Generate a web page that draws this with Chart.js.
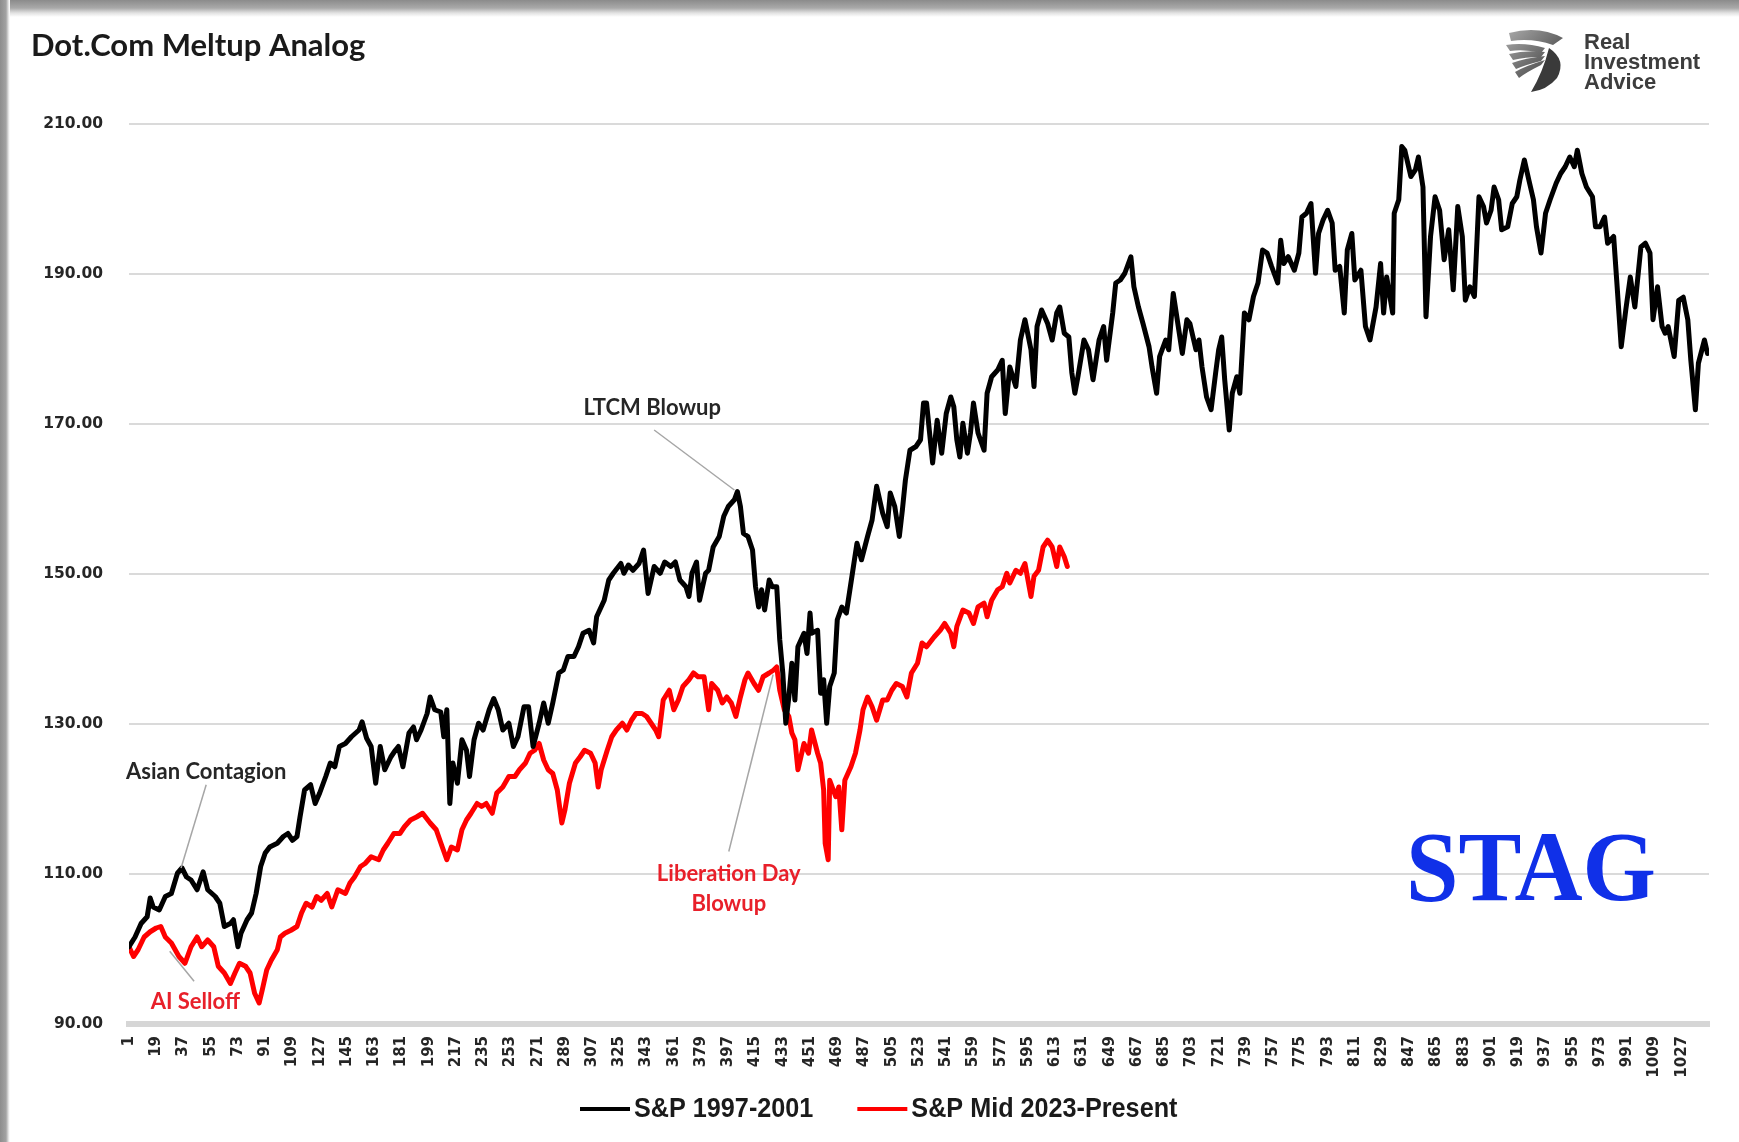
<!DOCTYPE html>
<html>
<head>
<meta charset="utf-8">
<title>Dot.Com Meltup Analog</title>
<script src="https://cdn.jsdelivr.net/npm/chart.js@4.4.1/dist/chart.umd.min.js"></script>
<style>
html, body { margin: 0; padding: 0; background: #fff; }
#wrap { position: relative; width: 1739px; height: 1142px; overflow: hidden; }
#topEdge { position: absolute; left: 0; top: 0; width: 1739px; height: 17px;
  background: linear-gradient(to bottom, #8b8b8b 0px, #a9a9a9 8px, #e2e2e2 13px, #ffffff 17px); }
#leftEdge { position: absolute; left: 0; top: 0; width: 10px; height: 1142px;
  background: linear-gradient(to right, #8d8d8d 0px, #a2a2a2 6px, #f0f0f0 9px, #ffffff 10px); }
canvas { position: absolute; left: 0; top: 0; }
</style>
</head>
<body>
<div id="wrap">
  <div id="topEdge"></div>
  <div id="leftEdge"></div>
  <canvas id="grafico" width="1739" height="1142"></canvas>
</div>
<script>
// day number (1 = start of each run) and index level
var spxOldDays = [1,5,9,13,15,17,21,25,29,33,36,39,42,46,50,53,58,61,64,68,70,73,75,79,82,85,88,91,94,99,
  103,106,109,112,114,117,121,124,127,131,134,137,140,144,148,153,155,158,161,164,167,170,174,177,179,182,186,189,191,194,
  198,200,203,207,209,211,213,215,218,221,224,226,229,232,235,239,242,245,248,252,255,258,262,265,268,272,275,278,281,285,
  288,291,295,298,301,305,308,310,315,318,321,326,328,331,334,338,341,344,348,352,355,359,362,365,369,371,373,376,378,382,
  384,387,391,394,397,401,403,405,407,410,413,415,417,419,421,424,426,429,431,433,435,437,439,441,443,447,449,451,452,456,
  458,460,462,464,467,469,472,475,479,482,485,489,492,495,499,502,504,507,510,512,514,517,521,524,526,528,532,535,538,541,
  544,546,548,550,552,555,557,559,562,566,568,571,575,578,580,583,587,590,593,597,599,601,604,608,611,614,616,619,622,624,
  626,628,632,635,638,642,645,647,651,653,656,659,663,665,668,671,675,677,680,682,686,688,691,695,697,700,702,706,708,710,
  713,716,719,721,723,725,728,730,733,735,738,741,744,747,750,753,756,760,762,764,767,771,774,776,779,782,785,787,790,793,
  796,798,801,804,806,809,811,815,818,821,825,828,830,832,836,837,840,842,844,848,851,853,856,858,861,864,867,870,873,876,
  879,882,884,887,890,893,896,898,901,903,906,908,912,915,918,920,923,926,929,931,934,937,940,944,947,950,953,956,958,961,
  964,968,970,973,976,978,982,984,987,990,993,996,1000,1003,1006,1008,1011,1014,1016,1018,1022,1025,1028,1031,1033,1036,1038,1042,1044];
var spxOldValues = [100.3,101.6,103.4,104.3,106.8,105.6,105.2,107,107.4,110.1,110.8,109.6,109.2,107.9,110.3,107.9,107,106.1,103,103.4,103.9,100.3,102.1,103.9,104.8,107.4,111,112.8,113.6,114.1,
  115,115.4,114.5,115,117.6,121.2,121.9,119.4,120.8,123,124.8,124.3,127,127.4,128.3,129.2,130.3,128.1,127,122.1,127,123.9,125.6,126.5,127,124.3,128.8,129.6,127.9,129.2,
  131.4,133.6,131.9,131.6,128.3,131.9,119.4,124.8,122.1,127.9,126.5,123,127.9,130.1,129.2,131.9,133.4,131.9,129.2,130.1,127,128.3,132.3,132.3,127,130.1,132.8,130.1,132.8,136.8,
  137.2,139,139,140.3,142.1,142.5,140.8,144.3,146.5,149.2,150.1,151.4,150.1,151.2,150.5,151.4,153.2,147.4,151,150.1,151.6,151,151.6,149.2,148.3,147,150.1,151.6,146.5,150.1,
  150.5,153.6,155,157.7,159,159.9,161,159,155.4,155,153.2,148.3,145.6,147.9,145.2,149.2,148.3,148.3,141.2,136.8,130.1,133.6,138.1,133.2,140.3,142.1,139.4,144.8,142.1,142.5,
  134.1,135.9,130.1,135,136.8,143.9,145.6,144.8,150.1,154.1,151.9,155,157.2,161.7,158.1,156.3,160.8,159,155,158.5,162.5,166.5,167,167.9,172.8,172.8,164.8,170.5,166.1,171.4,
  173.6,172.3,167.9,165.6,170.1,166.1,168.8,172.8,168.8,166.5,174.1,176.3,177.2,178.5,171.4,177.6,175,181.2,183.9,179.9,175,183,185.2,183.4,181.2,184.8,185.6,182.1,181.6,176.8,
  174.1,176.3,181.2,179.9,175.9,181.2,183,178.5,184.8,188.8,189.2,190.1,192.3,188.3,185.6,183.4,180.3,177.6,174.1,179,181.2,179.9,187.4,182.1,179.4,183.9,183.4,179.9,181.2,177.6,
  173.6,171.9,176.8,179.9,181.6,175.9,169.2,174.1,176.3,174.1,184.8,183.9,187,188.8,193.2,192.8,191,188.8,194.5,191.4,192.3,190.5,192.8,197.6,198.1,199.4,190.1,195.4,197.2,198.5,
  196.8,190.5,191,184.8,193.2,195.4,189.2,190.5,183,181.2,185.6,191.4,184.8,189.6,184.8,198.1,199.9,207,206.5,203,203.9,205.6,201.6,184.3,195,200.3,198.5,191.9,195.9,187.9,
  199,195,186.5,188.3,187,200.3,199,196.8,198.5,201.6,199.9,195.9,196.3,199.4,200.3,202.5,205.2,202.5,199.9,196.3,192.8,198.1,199.9,202.1,203.4,204.3,205.6,204.3,206.5,203.4,
  201.6,200.3,196.3,196.3,197.6,194.1,195,189.2,180.3,185.2,189.6,185.6,193.6,194.1,192.8,183.9,188.3,183,182.1,183,179,186.5,186.9,183.9,178.5,171.9,178.1,181.2,179.4];

var spxNewDays = [1,4,7,11,15,19,22,25,29,34,38,42,46,49,53,57,60,64,68,71,74,78,81,84,87,89,92,95,99,101,
  104,108,112,115,118,122,125,128,132,135,139,144,147,150,154,157,161,166,169,172,176,180,183,187,191,195,200,204,208,211,
  214,218,221,224,227,231,234,237,241,244,248,252,256,259,263,266,269,272,275,278,281,284,287,289,292,296,299,302,306,309,
  311,313,317,320,323,327,330,333,336,340,343,346,349,351,354,358,361,364,367,371,374,377,381,384,386,390,393,396,399,402,
  405,408,410,414,417,420,424,427,429,431,434,437,439,441,443,447,450,452,456,458,460,461,463,464,468,470,472,474,478,481,
  484,486,489,492,495,499,502,505,508,512,515,518,522,525,528,533,537,540,544,546,548,552,556,559,562,566,568,571,575,578,
  581,583,587,590,593,597,599,602,605,608,611,614,616,619,621];
var spxNewValues = [100.3,99,99.9,101.6,102.3,102.8,103,101.6,100.8,99,98.1,100.3,101.6,100.3,101.2,100.3,97.7,96.8,95.4,96.8,98.1,97.7,96.8,94.1,92.8,94.5,97.2,98.5,99.9,101.6,
  102.1,102.5,103,104.8,106.1,105.6,107,106.5,107.4,105.6,107.9,107.4,108.8,109.6,111,111.4,112.3,111.9,113.2,114.1,115.4,115.4,116.3,117.2,117.6,118.1,116.8,115.9,113.6,111.9,
  113.6,113.2,115.9,117.2,118.1,119.4,119,119.4,118.1,120.8,121.6,123,123,123.9,124.8,126.1,126.5,127.4,125.2,123.9,123.4,121.2,116.8,118.5,122.1,124.8,125.6,126.5,126.1,124.8,
  121.6,123.9,126.5,128.3,129.2,130.1,129.2,130.5,131.4,131.4,131,130.1,129.2,128.3,133.2,134.5,131.9,133.2,135,135.9,136.8,136.3,136.3,131.9,135.4,134.5,132.8,133.6,132.8,131,
  133.6,135.9,136.8,135.4,134.5,136.3,136.8,137.2,137.6,134.5,131.9,131,128.8,127.9,123.9,127.4,126.1,129.2,126.1,124.8,121.2,114.1,111.9,122.5,120.3,121.6,115.9,122.5,124.3,126.1,
  129.2,131.9,133.6,132.3,130.5,133.2,133.2,134.5,135.4,135,133.6,136.8,138.1,140.8,140.3,141.6,142.5,143.4,142.1,140.3,143,145.2,144.8,143.4,145.6,146.1,144.3,146.5,147.9,148.3,
  150.1,148.8,150.5,150.1,151.4,147,149.7,150.5,153.6,154.5,153.6,151,153.6,152.3,151];

var seriesNames = ['S&P 1997-2001', 'S&P Mid 2023-Present'];
var seriesColors = ['#000000', '#ff0000'];
var dayTicks = [1,19,37,55,73,91,109,127,145,163,181,199,217,235,253,271,289,307,325,343,361,379,397,415,433,451,469,487,505,523,
  541,559,577,595,613,631,649,667,685,703,721,739,757,775,793,811,829,847,865,883,901,919,937,955,973,991,1009,1027];

// call-outs: text anchored at (day, level), leader line from -> to in (day, level)
var notas = [
  { texto: ['LTCM Blowup'], dia: 346.7, nivel: 172.1, cor: '#262626', de: [348, 169.2], ate: [401, 161.2] },
  { texto: ['Asian Contagion'], dia: 52, nivel: 123.6, cor: '#262626', de: [52, 121.9], ate: [35.4, 110.8] },
  { texto: ['Liberation Day', 'Blowup'], dia: 397.3, nivel: 110, cor: '#e8202a', de: [397.3, 113], ate: [426.6, 136.6] },
  { texto: ['AI Selloff'], dia: 44.8, nivel: 93, cor: '#e8202a', de: [27.9, 99.7], ate: [44, 95.7] }
];

function pontos(dias, valores) {
  return dias.map(function (d, k) { return { x: d, y: valores[k] }; });
}

function desenhaAguia(ctx, x, y) {
  ctx.save();
  ctx.translate(x, y);
  var g = ctx.createLinearGradient(0, 0, 60, 64);
  g.addColorStop(0, '#b0b0b0');
  g.addColorStop(0.5, '#6a6a6a');
  g.addColorStop(1, '#2e2e2e');
  ctx.fillStyle = g;
  ctx.beginPath();
  ctx.moveTo(6, 5);
  ctx.quadraticCurveTo(36, -3, 60, 10);
  ctx.lineTo(50, 17);
  ctx.quadraticCurveTo(30, 10, 8, 13);
  ctx.closePath();
  ctx.fill();
  for (var k = 0; k < 4; k++) {
    ctx.beginPath();
    ctx.moveTo(3 + k * 3, 17 + k * 9);
    ctx.quadraticCurveTo(22, 14 + k * 8, 42, 20 + k * 4);
    ctx.lineTo(38, 25 + k * 4);
    ctx.quadraticCurveTo(22, 21 + k * 8, 7 + k * 3, 23 + k * 9);
    ctx.closePath();
    ctx.fill();
  }
  ctx.fillStyle = '#3a3a3a';
  ctx.beginPath();
  ctx.moveTo(46, 20);
  ctx.quadraticCurveTo(64, 32, 54, 50);
  ctx.quadraticCurveTo(44, 62, 28, 64);
  ctx.quadraticCurveTo(40, 44, 46, 20);
  ctx.closePath();
  ctx.fill();
  ctx.restore();
}

var extras = {
  id: 'extras',
  afterDatasetsDraw: function (chart) {
    var ctx = chart.ctx;
    var sx = chart.scales.x, sy = chart.scales.y;
    ctx.save();
    // leader lines
    ctx.strokeStyle = '#a6a6a6';
    ctx.lineWidth = 1.5;
    notas.forEach(function (n) {
      ctx.beginPath();
      ctx.moveTo(sx.getPixelForValue(n.de[0]), sy.getPixelForValue(n.de[1]));
      ctx.lineTo(sx.getPixelForValue(n.ate[0]), sy.getPixelForValue(n.ate[1]));
      ctx.stroke();
    });
    // call-out text
    ctx.font = 'bold 22px Lato';
    ctx.textAlign = 'center';
    ctx.textBaseline = 'middle';
    notas.forEach(function (n) {
      ctx.fillStyle = n.cor;
      n.texto.forEach(function (t, k) {
        ctx.fillText(t, sx.getPixelForValue(n.dia), sy.getPixelForValue(n.nivel) + k * 30);
      });
    });

    // title
    ctx.textAlign = 'left';
    ctx.textBaseline = 'alphabetic';
    ctx.fillStyle = '#1a1a1a';
    ctx.font = 'bold 31px Lato';
    ctx.fillText('Dot.Com Meltup Analog', 31, 56);

    // logo
    desenhaAguia(ctx, 1503, 28);
    ctx.fillStyle = '#3d3d3d';
    ctx.font = 'bold 22px "Liberation Sans"';
    ctx.fillText('Real', 1584, 49);
    ctx.fillText('Investment', 1584, 69);
    ctx.fillText('Advice', 1584, 89);

    // STAG stamp
    ctx.fillStyle = '#1030e8';
    ctx.font = 'bold 100px "Liberation Serif"';
    var w = ctx.measureText('STAG').width;
    ctx.save();
    ctx.translate(1406, 900);
    ctx.scale(250 / w, 1);
    ctx.fillText('STAG', 0, 0);
    ctx.restore();

    // legend (text slightly condensed, like the original)
    ctx.font = 'bold 28px "Liberation Sans"';
    ctx.textBaseline = 'middle';
    var x = 580, yl = 1109, aperto = 0.9;
    chart.data.datasets.forEach(function (ds) {
      ctx.strokeStyle = ds.borderColor;
      ctx.lineWidth = 4;
      ctx.beginPath();
      ctx.moveTo(x, yl);
      ctx.lineTo(x + 50, yl);
      ctx.stroke();
      ctx.fillStyle = '#1a1a1a';
      ctx.save();
      ctx.translate(x + 54, yl);
      ctx.scale(aperto, 1);
      ctx.fillText(ds.label, 0, 0);
      ctx.restore();
      x += 54 + ctx.measureText(ds.label).width * aperto + 44;
    });
    ctx.restore();
  }
};

var ctxL = document.getElementById('grafico').getContext('2d');
var grafico = new Chart(ctxL, {
  type: 'line',
  data: {
    datasets: [
      {
        label: seriesNames[0],
        data: pontos(spxOldDays, spxOldValues),
        borderColor: seriesColors[0],
        backgroundColor: seriesColors[0],
        borderWidth: 5
      },
      {
        label: seriesNames[1],
        data: pontos(spxNewDays, spxNewValues),
        borderColor: seriesColors[1],
        backgroundColor: seriesColors[1],
        borderWidth: 5
      }
    ]
  },
  options: {
    responsive: false,
    animation: false,
    layout: { padding: { left: 29, right: 30, top: 124, bottom: 52 } },
    elements: {
      point: { radius: 0 },
      line: { tension: 0, borderJoinStyle: 'round', borderCapStyle: 'round' }
    },
    plugins: {
      legend: { display: false },
      tooltip: { enabled: false },
      title: { display: false }
    },
    scales: {
      x: {
        type: 'linear',
        min: 1,
        max: 1045,
        grid: { display: false, drawTicks: false },
        border: { display: true, color: '#d6d6d6', width: 6 },
        afterBuildTicks: function (axis) {
          axis.ticks = dayTicks.map(function (v) { return { value: v }; });
        },
        afterFit: function (axis) { axis.height = 66; },
        ticks: {
          autoSkip: false,
          minRotation: 90,
          maxRotation: 90,
          padding: 12,
          color: '#262626',
          font: { family: 'DejaVu Sans', weight: 'bold', size: 15 },
          callback: function (v) { return String(v); }
        }
      },
      y: {
        min: 90,
        max: 210,
        afterFit: function (axis) { axis.width = 100; },
        border: { display: false },
        grid: { color: '#dadada', lineWidth: 2, drawTicks: false },
        ticks: {
          stepSize: 20,
          padding: 26,
          color: '#262626',
          font: { family: 'DejaVu Sans', weight: 'bold', size: 15.5 },
          callback: function (v) { return v.toFixed(2); }
        }
      }
    }
  },
  plugins: [extras]
});
</script>
</body>
</html>
